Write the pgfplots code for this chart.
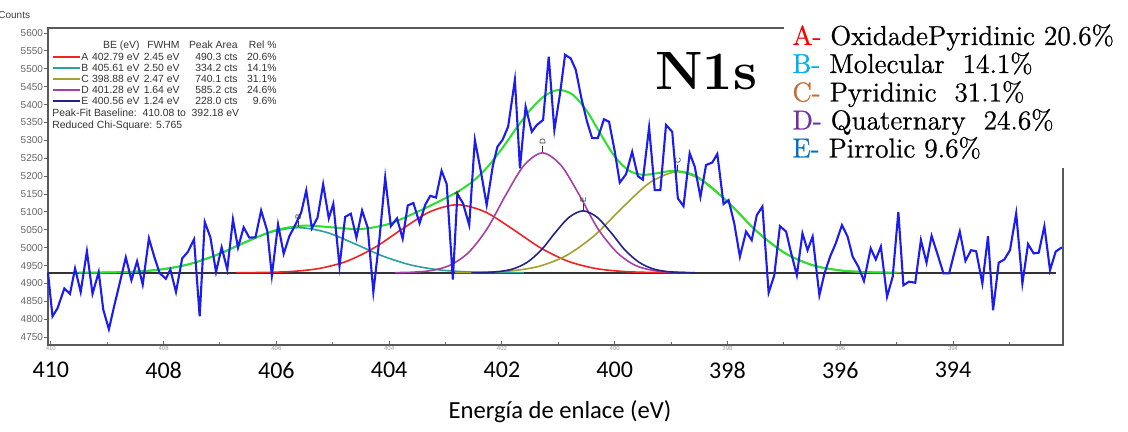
\documentclass[border=0pt]{standalone}
\usepackage{pgfplots}
\pgfplotsset{compat=1.18}
\usepackage{fontspec}
\newfontfamily\calib{Carlito}
\newfontfamily\arial{Liberation Sans}
\newfontfamily\legfont{Latin Modern Roman}[FakeBold=0.8]

% curve colours
\definecolor{cdata}{RGB}{28,28,240}
\definecolor{cfit}{RGB}{40,225,40}
\definecolor{cA}{RGB}{240,35,35}
\definecolor{cB}{RGB}{40,160,155}
\definecolor{cC}{RGB}{165,160,45}
\definecolor{cD}{RGB}{165,65,165}
\definecolor{cE}{RGB}{35,35,135}
% assignment letters in the side list
\definecolor{lA}{RGB}{255,0,0}
\definecolor{lB}{RGB}{0,176,240}
\definecolor{lC}{RGB}{197,110,50}
\definecolor{lD}{RGB}{112,48,160}
\definecolor{lE}{RGB}{0,112,192}

\begin{document}
\begin{tikzpicture}[x=0.5pt,y=-0.5pt]
\useasboundingbox (0,0) rectangle (1128,432);
\begin{axis}[
  at={(24pt,-172.5pt)}, anchor=south west,
  width=507.5pt, height=158.5pt, scale only axis,
  x dir=reverse,
  xmin=392.05, xmax=410.05, ymin=4728, ymax=5614,
  clip=false,
  scaled ticks=false,
  /pgf/number format/1000 sep={},
  /pgf/number format/assume math mode=true,
  xtick={394,396,...,410}, minor xtick={393,395,...,409},
  ytick={4750,4800,...,5600},
  xtick pos=bottom, ytick pos=left,
  tick align=inside,
  major tick length=2pt, minor tick length=1.6pt,
  tick style={black!60, line width=0.5pt},
  y tick style={xshift=-2pt},
  axis line style={draw=black!65, line width=0.6pt},
  xticklabel style={font=\calib\fontsize{12}{14}\selectfont, inner sep=0pt, yshift=-8.5pt},
  yticklabel style={font=\arial\fontsize{5}{6}\selectfont, text=black!60, inner sep=0pt, xshift=-2.3pt},
]
% linear background
\addplot[black!80, line width=1pt] coordinates {(410.05,4930) (392.18,4930)};

% fitted components
\addplot[cB, line width=0.8pt, smooth] coordinates {
(401.61,4930.1) (402.11,4930.5) (402.61,4932.3) (403.11,4937.9) (403.61,4951.4)
(404.11,4976.4) (404.61,5010.9) (405.11,5042.8) (405.61,5056.0) (406.11,5042.8)
(406.61,5010.9) (407.11,4976.4) (407.61,4951.4) (408.11,4937.9) (408.61,4932.3)
(409.11,4930.5) (409.61,4930.1)};
\addplot[cA, line width=0.8pt, smooth] coordinates {
(398.87,4930.2) (399.36,4930.8) (399.85,4933.5) (400.34,4941.9) (400.83,4962.2)
(401.32,5000.0) (401.81,5051.9) (402.30,5100.1) (402.79,5120.0) (403.28,5100.1)
(403.77,5051.9) (404.26,5000.0) (404.75,4962.2) (405.24,4941.9) (405.73,4933.5)
(406.22,4930.8) (406.71,4930.2)};
\addplot[cC, line width=0.8pt, smooth] coordinates {
(394.93,4930.2) (395.42,4931.2) (395.92,4935.2) (396.41,4947.6) (396.90,4977.8)
(397.40,5033.9) (397.89,5111.0) (398.39,5182.4) (398.88,5212.0) (399.37,5182.4)
(399.87,5111.0) (400.36,5033.9) (400.86,4977.8) (401.35,4947.6) (401.84,4935.2)
(402.34,4931.2) (402.83,4930.2)};
\addplot[cD, line width=0.8pt, smooth] coordinates {
(398.66,4930.3) (398.98,4931.5) (399.31,4936.2) (399.64,4950.9) (399.96,4986.8)
(400.30,5053.5) (400.62,5145.0) (400.95,5229.8) (401.28,5265.0) (401.61,5229.8)
(401.94,5145.0) (402.26,5053.5) (402.59,4986.8) (402.92,4950.9) (403.25,4936.2)
(403.58,4931.5) (403.90,4930.3)};
\addplot[cE, line width=0.8pt, smooth] coordinates {
(398.58,4930.1) (398.82,4930.8) (399.07,4933.2) (399.32,4940.8) (399.57,4959.3)
(399.82,4993.8) (400.06,5041.0) (400.31,5084.8) (400.56,5103.0) (400.81,5084.8)
(401.06,5041.0) (401.30,4993.8) (401.55,4959.3) (401.80,4940.8) (402.05,4933.2)
(402.30,4930.8) (402.54,4930.1)};

% envelope of the fit
\addplot[cfit, line width=1pt, smooth] coordinates {
(409.5,4930.2) (409.0,4930.8) (408.5,4933.1) (408.0,4940.0) (407.5,4955.8)
(407.0,4983.5) (406.5,5019.0) (406.0,5049.4) (405.5,5061.7) (405.0,5056.7)
(404.5,5052.1) (404.0,5066.7) (403.5,5100.1) (403.25,5119.1) (403.0,5138.3)
(402.75,5159.7) (402.5,5187.6) (402.25,5226.5) (402.0,5276.6) (401.75,5332.5)
(401.5,5384.5) (401.25,5423.5) (401.0,5440.8) (400.75,5428.2) (400.5,5383.3)
(400.25,5317.6) (400.0,5254.9) (399.75,5215.6) (399.5,5203.7) (399.25,5208.2)
(399.0,5214.2) (398.75,5210.8) (398.5,5194.3) (398.0,5128.4) (397.5,5048.7)
(397.0,4986.6) (396.5,4951.5) (396.0,4936.5) (395.5,4931.6) (395.0,4930.3)};

% measured spectrum
\addplot[cdata, line width=1.05pt] coordinates {
(410.05,4930) (409.97,4808) (409.88,4831) (409.76,4886) (409.66,4871)
(409.57,4942) (409.47,4876) (409.36,4990) (409.26,4871) (409.15,4932)
(409.07,4827) (408.97,4772) (408.87,4841) (408.77,4906) (408.67,4973)
(408.57,4909) (408.47,4962) (408.37,4897) (408.26,5026) (408.16,4972)
(408.07,4929) (407.96,4913) (407.88,4939) (407.78,4876) (407.67,4970)
(407.57,4988) (407.46,5023) (407.36,4808) (407.27,5072) (407.17,5029)
(407.07,4932) (406.97,5001) (406.87,4939) (406.77,5079) (406.68,5000)
(406.58,5057) (406.48,5028) (406.37,5029) (406.27,5104) (406.16,5046)
(406.08,4922) (405.97,5065) (405.87,4983) (405.77,5032) (405.66,5065)
(405.56,5098) (405.47,5160) (405.37,5054) (405.27,5084) (405.17,5177)
(405.07,5082) (404.99,5123) (404.88,4948) (404.78,5086) (404.68,5095)
(404.58,5028) (404.48,5104) (404.38,5056) (404.28,4876) (404.17,5028)
(404.07,5196) (403.97,5060) (403.86,5082) (403.76,5025) (403.67,5118)
(403.57,5125) (403.46,5068) (403.36,5120) (403.27,5145) (403.17,5140)
(403.07,5215) (402.98,5178) (402.87,4911) (402.79,5150) (402.69,5124)
(402.58,5063) (402.48,5301) (402.37,5210) (402.27,5119) (402.16,5230)
(402.08,5282) (401.99,5301) (401.89,5338) (401.77,5469) (401.68,5222)
(401.58,5394) (401.47,5324) (401.38,5343) (401.27,5357) (401.17,5534)
(401.07,5329) (400.97,5430) (400.88,5539) (400.78,5529) (400.69,5497)
(400.59,5417) (400.49,5352) (400.40,5306) (400.30,5306) (400.19,5359)
(400.10,5352) (400.00,5270) (399.91,5182) (399.80,5205) (399.69,5268)
(399.59,5200) (399.50,5190) (399.39,5336) (399.29,5161) (399.19,5161)
(399.09,5343) (398.98,5324) (398.88,5138) (398.78,5116) (398.67,5264)
(398.58,5226) (398.48,5142) (398.38,5231) (398.27,5238) (398.18,5262)
(398.07,5122) (397.98,5133) (397.88,5068) (397.78,4975) (397.67,5045)
(397.57,5021) (397.48,5091) (397.38,5115) (397.27,4874) (397.17,4923)
(397.07,5060) (396.96,5045) (396.87,4984) (396.77,4923) (396.67,5040)
(396.58,4993) (396.49,5031) (396.37,4867) (396.28,4928) (396.18,4975)
(396.08,5012) (395.97,5063) (395.87,5031) (395.78,4975) (395.68,4947)
(395.58,4907) (395.46,4998) (395.37,4967) (395.28,5003) (395.17,4863)
(395.07,4919) (394.97,5100) (394.88,4895) (394.78,4905) (394.67,4902)
(394.57,5021) (394.47,4958) (394.38,5033) (394.28,4984) (394.17,4928)
(394.07,4928) (393.98,4984) (393.88,5045) (393.78,4963) (393.68,4993)
(393.59,4990) (393.48,4900) (393.38,5032) (393.29,4825) (393.19,4958)
(393.09,4967) (392.99,4993) (392.88,5096) (392.77,4900) (392.67,5010)
(392.57,4984) (392.48,4986) (392.38,5060) (392.28,4937) (392.18,4989)
(392.07,5001)};

% component tags at the peak maxima
\begin{scope}[every node/.style={rotate=90, anchor=west, inner sep=0.5pt,
    font=\arial\fontsize{4}{4}\selectfont, text=black!80}]
\draw[black!80, line width=0.5pt] (axis cs:402.79,5122) -- ++(0pt,3pt) node {A};
\draw[black!80, line width=0.5pt] (axis cs:405.61,5058) -- ++(0pt,3pt) node {B};
\draw[black!80, line width=0.5pt] (axis cs:398.88,5214) -- ++(0pt,3pt) node {C};
\draw[black!80, line width=0.5pt] (axis cs:401.28,5267) -- ++(0pt,3pt) node {D};
\draw[black!80, line width=0.5pt] (axis cs:400.56,5105) -- ++(0pt,3pt) node {E};
\end{scope}

% small instrument tick labels under the frame
\pgfplotsinvokeforeach{394,396,...,410}{
  \node[anchor=north, inner sep=0.4pt, text=black!40,
        font=\arial\fontsize{3}{3}\selectfont] at (axis cs:#1,4728) {#1};
}
\end{axis}

% axis title
\node[anchor=base west, inner sep=0pt, text=black!75,
      font=\arial\fontsize{5}{6}\selectfont] at (-2,19) {Counts};

% fit summary table
\begin{scope}[every node/.style={inner sep=0pt, text=black!80,
      font=\arial\fontsize{5.2}{6}\selectfont}]
\node[anchor=base east] at (140,48.5) {BE (eV)};
\node[anchor=base east] at (180,48.5) {FWHM};
\node[anchor=base east] at (238,48.5) {Peak Area};
\node[anchor=base east] at (277,48.5) {Rel \%};
\foreach \c/\l/\be/\fw/\ar/\rel [count=\i from 0] in {
    cA/A/402.79/2.45/490.3/20.6,
    cB/B/405.61/2.50/334.2/14.1,
    cC/C/398.88/2.47/740.1/31.1,
    cD/D/401.28/1.64/585.2/24.6,
    cE/E/400.56/1.24/228.0/9.6}{
  \pgfmathsetmacro\yy{57+11*\i}
  \draw[\c, line width=1pt] (53,\yy) -- (80,\yy);
  \node[anchor=base west] at (81,\yy+3.5) {\l};
  \node[anchor=base east] at (140,\yy+3.5) {\be\ eV};
  \node[anchor=base east] at (180,\yy+3.5) {\fw\ eV};
  \node[anchor=base east] at (238,\yy+3.5) {\ar\ cts};
  \node[anchor=base east] at (277,\yy+3.5) {\rel\%};
}
\node[anchor=base west] at (52,116.5) {Peak-Fit Baseline:\ \ 410.08 to\ \ 392.18 eV};
\node[anchor=base west] at (52,128.5) {Reduced Chi-Square: 5.765};
\end{scope}

% panel for the assignment list
\fill[white] (784,0) rectangle (1128,168);

\node[anchor=base west, inner sep=0pt, font=\bfseries\fontsize{27}{32}\selectfont]
  at (655,90) {N1s};

\begin{scope}[every node/.style={anchor=base west, inner sep=0pt,
      font=\legfont\fontsize{13.7}{16}\selectfont}]
\node at (792,45)    {\textcolor{lA}{A-} OxidadePyridinic 20.6\%};
\node at (792,73)    {\textcolor{lB}{B-} Molecular\ \ 14.1\%};
\node at (792,101.5) {\textcolor{lC}{C-} Pyridinic\ \ 31.1\%};
\node at (792,129.5) {\textcolor{lD}{D-} Quaternary\ \ 24.6\%};
\node at (792,157.5) {\textcolor{lE}{E-} Pirrolic 9.6\%};
\end{scope}

% axis label
\node[anchor=base, inner sep=0pt, font=\calib\fontsize{12.3}{14}\selectfont]
  at (560,418) {Energía de enlace (eV)};
\end{tikzpicture}
\end{document}
